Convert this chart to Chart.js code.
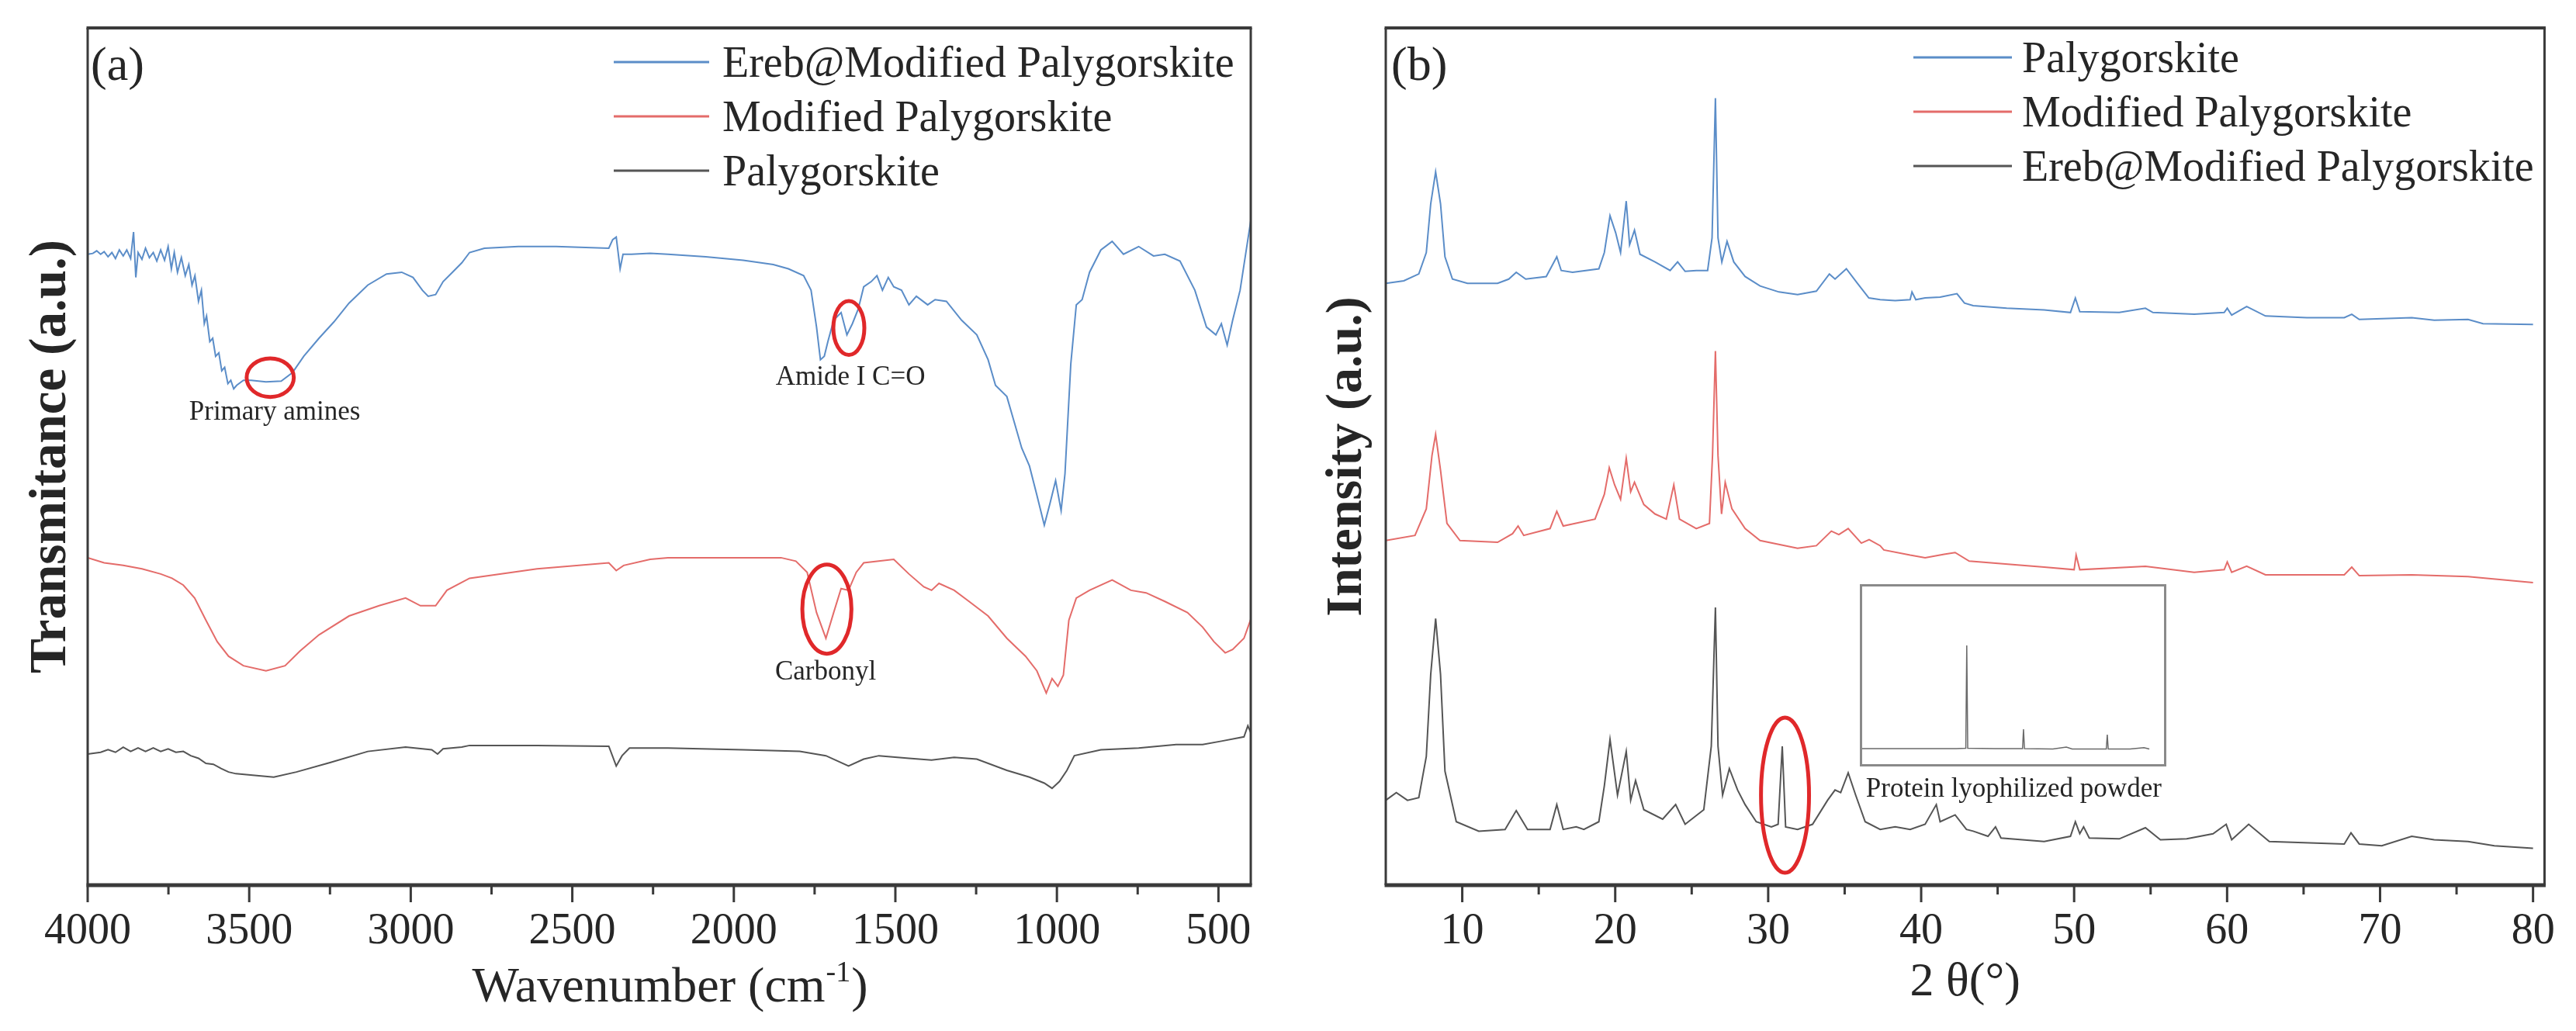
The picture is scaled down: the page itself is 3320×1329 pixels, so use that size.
<!DOCTYPE html>
<html>
<head>
<meta charset="utf-8">
<script src="https://cdn.jsdelivr.net/npm/chart.js@4.4.0/dist/chart.umd.min.js"></script>
<style>
  body { margin: 0; background: #fff; width: 3320px; height: 1329px; position: relative; overflow: hidden; }
  .panel { position: absolute; top: 0; }
  #insetBox { position: absolute; left: 2397px; top: 753px; }
</style>
</head>
<body>
<div class="panel" style="left:0"><canvas id="ftir" width="1660" height="1329"></canvas></div>
<div class="panel" style="left:1660px"><canvas id="xrd" width="1660" height="1329"></canvas></div>
<div id="insetBox"><canvas id="inset" width="395" height="235"></canvas></div>
<script>
// ---- FTIR (a) ----
var ftirTicks = [4000, 3500, 3000, 2500, 2000, 1500, 1000, 500];
var ftirMinor = [3750, 3250, 2750, 2250, 1750, 1250, 750];

var ftirErebWn = [4000, 3984, 3972, 3960, 3949, 3937, 3925, 3914, 3902, 3890, 3879, 3867, 3858, 3851, 3844, 3832, 3821, 3809, 3797, 3786,
    3774, 3762, 3751, 3741, 3732, 3722, 3710, 3698, 3687, 3677, 3668, 3657, 3648, 3639, 3632, 3622, 3613, 3604, 3594, 3585,
    3576, 3566, 3557, 3548, 3539, 3518, 3494, 3448, 3401, 3366, 3331, 3284, 3238, 3191, 3133, 3075, 3028, 2993, 2964, 2946,
    2923, 2900, 2871, 2842, 2818, 2772, 2667, 2550, 2387, 2375, 2364, 2352, 2343, 2317, 2259, 2204, 2087, 1971, 1878, 1831,
    1784, 1761, 1744, 1732, 1720, 1709, 1691, 1668, 1650, 1633, 1615, 1598, 1575, 1557, 1540, 1522, 1505, 1481, 1458, 1435,
    1400, 1377, 1342, 1295, 1248, 1213, 1190, 1155, 1132, 1109, 1085, 1062, 1039, 1021, 1004, 987, 975, 957, 940, 922,
    899, 864, 829, 794, 747, 701, 666, 619, 573, 537, 508, 491, 473, 456, 433, 409, 400];
var ftirErebT = [73.6, 73.7, 74.0, 73.6, 73.9, 73.3, 73.8, 73.1, 74.1, 73.4, 74.1, 73.1, 76.2, 70.9, 73.8, 73.0, 74.3, 73.2, 73.8, 72.8,
    74.1, 72.9, 74.5, 71.9, 73.8, 71.5, 73.2, 71.1, 72.4, 70.0, 71.1, 68.1, 69.4, 65.5, 66.4, 63.4, 63.8, 61.7, 62.1, 60.0,
    60.4, 58.5, 58.9, 57.9, 58.3, 58.9, 58.9, 58.7, 58.8, 59.8, 61.7, 63.8, 65.7, 67.9, 70.0, 71.3, 71.5, 70.9, 69.4, 68.7,
    68.9, 70.4, 71.5, 72.6, 73.8, 74.3, 74.5, 74.5, 74.3, 75.3, 75.6, 71.9, 73.6, 73.6, 73.7, 73.6, 73.3, 72.9, 72.4, 71.9,
    71.1, 69.4, 65.1, 61.3, 61.7, 63.4, 65.9, 66.8, 64.2, 65.5, 67.2, 69.8, 70.4, 71.1, 69.4, 70.9, 69.8, 69.4, 67.7, 68.7,
    67.7, 68.3, 68.1, 65.9, 64.2, 61.3, 58.3, 57.0, 54.0, 51.0, 48.9, 45.5, 42.0, 44.6, 47.2, 43.7, 48.0, 60.8, 67.7, 68.3,
    71.5, 74.1, 75.1, 73.6, 74.5, 73.4, 73.6, 72.8, 69.4, 65.1, 64.2, 65.5, 63.0, 65.9, 69.4, 75.3, 77.5];

var ftirModWn = [4000, 3949, 3890, 3832, 3774, 3739, 3704, 3669, 3634, 3599, 3564, 3518, 3448, 3389, 3343, 3284, 3191, 3098, 3016, 2970,
    2923, 2888, 2818, 2609, 2387, 2364, 2341, 2259, 2204, 1854, 1808, 1773, 1744, 1715, 1691, 1668, 1645, 1621, 1598, 1505,
    1458, 1412, 1388, 1365, 1318, 1272, 1213, 1155, 1097, 1062, 1033, 1015, 997, 980, 963, 940, 899, 829, 771, 724,
    666, 596, 549, 514, 479, 456, 421, 400];
var ftirModT = [38.2, 37.6, 37.3, 36.9, 36.3, 35.8, 35.0, 33.5, 30.9, 28.4, 26.7, 25.6, 25.0, 25.6, 27.3, 29.2, 31.4, 32.6, 33.5, 32.6,
    32.6, 34.4, 35.8, 36.9, 37.6, 36.7, 37.3, 38.0, 38.2, 38.2, 37.8, 36.5, 31.8, 28.8, 31.8, 34.6, 34.4, 36.5, 37.6, 38.0,
    36.3, 34.8, 34.4, 35.2, 34.4, 33.1, 31.4, 28.8, 26.7, 25.0, 22.4, 24.1, 23.2, 24.5, 30.9, 33.5, 34.4, 35.6, 34.4, 34.1,
    33.1, 31.8, 30.1, 28.4, 27.1, 27.5, 28.8, 31.0];

var ftirPalyWn = [4000, 3960, 3937, 3914, 3890, 3867, 3844, 3821, 3797, 3774, 3751, 3727, 3704, 3681, 3657, 3634, 3611, 3587, 3564, 3541,
    3483, 3424, 3354, 3250, 3133, 3016, 2935, 2917, 2900, 2842, 2818, 2609, 2387, 2364, 2346, 2323, 2204, 1971, 1796, 1715,
    1645, 1598, 1551, 1458, 1388, 1318, 1248, 1155, 1085, 1039, 1015, 992, 969, 946, 864, 747, 631, 549, 491, 421,
    409, 400];
var ftirPalyT = [15.3, 15.5, 15.8, 15.5, 16.1, 15.6, 16.0, 15.6, 16.0, 15.6, 15.9, 15.5, 15.6, 15.1, 14.8, 14.2, 14.1, 13.6, 13.2, 13.0,
    12.8, 12.6, 13.2, 14.3, 15.6, 16.1, 15.8, 15.3, 15.9, 16.1, 16.3, 16.3, 16.2, 13.9, 15.1, 16.0, 16.0, 15.8, 15.6, 15.1,
    13.9, 14.7, 15.1, 14.8, 14.6, 14.9, 14.7, 13.4, 12.6, 11.9, 11.3, 12.1, 13.4, 15.1, 15.8, 16.0, 16.4, 16.4, 16.8, 17.3,
    18.6, 17.8];

var ftirRings = [
    { x: 3435, y: 59.2, rx: 73, ry: 2.25 },
    { x: 1644, y: 65.0, rx: 48, ry: 3.15 },
    { x: 1712, y: 32.2, rx: 76, ry: 5.2 }
];
var ftirNotes = [
    { text: 'Primary amines', x: 3421, y: 54.3 },
    { text: 'Amide I C=O', x: 1639, y: 58.4 },
    { text: 'Carbonyl', x: 1716, y: 24.0 }
];

// ---- XRD (b) ----
var xrdTicks = [10, 20, 30, 40, 50, 60, 70, 80];
var xrdMinor = [15, 25, 35, 45, 55, 65, 75];

var xrdPalyTheta = [5.0, 6.18, 7.16, 7.65, 7.94, 8.26, 8.58, 8.87, 9.36, 10.34, 12.31, 13.04, 13.53, 14.15, 15.49, 16.18, 16.47, 17.21, 18.93, 19.29,
    19.66, 20.03, 20.35, 20.72, 20.94, 21.26, 21.62, 22.6, 23.59, 24.08, 24.57, 25.3, 26.04, 26.33, 26.55, 26.72, 26.97, 27.31, 27.75, 28.49,
    29.47, 30.7, 31.92, 33.15, 34.0, 34.37, 35.11, 35.84, 36.58, 37.32, 38.3, 39.28, 39.4, 39.65, 40.26, 41.24, 42.34, 42.83, 43.4, 45.59,
    48.04, 49.76, 50.08, 50.37, 52.95, 54.66, 55.15, 57.85, 59.81, 60.01, 60.3, 61.28, 62.51, 65.21, 67.66, 68.15, 68.64, 72.07, 73.54, 75.75,
    76.73, 80.0];
var xrdPalyI = [70.2, 70.5, 71.3, 73.8, 79.5, 83.2, 79.5, 73.3, 70.7, 70.2, 70.2, 70.7, 71.5, 70.7, 71.0, 73.3, 71.7, 71.5, 71.9, 73.8,
    78.1, 76.1, 73.8, 79.8, 74.7, 76.4, 73.6, 72.7, 71.7, 72.7, 71.6, 71.7, 71.7, 75.5, 91.8, 75.5, 72.7, 75.1, 72.7, 71.0,
    69.9, 69.2, 68.9, 69.3, 71.3, 70.7, 71.9, 70.2, 68.5, 68.3, 68.2, 68.3, 69.2, 68.3, 68.5, 68.6, 69.0, 67.9, 67.6, 67.3,
    67.1, 66.8, 68.5, 66.9, 66.8, 67.3, 66.8, 66.6, 66.8, 67.3, 66.5, 67.5, 66.4, 66.2, 66.2, 66.6, 66.0, 66.2, 65.9, 66.0,
    65.5, 65.4];

var xrdModTheta = [5.0, 6.91, 7.65, 8.02, 8.26, 8.58, 9.0, 9.85, 12.31, 13.29, 13.65, 14.02, 15.74, 16.18, 16.6, 18.68, 19.29, 19.61, 19.96, 20.35,
    20.72, 21.01, 21.26, 21.87, 22.6, 23.34, 23.83, 24.2, 25.3, 26.16, 26.36, 26.55, 26.72, 26.95, 27.19, 27.63, 28.49, 29.47, 31.92, 33.15,
    34.13, 34.62, 35.23, 36.09, 36.6, 37.32, 37.56, 39.28, 40.26, 41.5, 42.22, 43.14, 48.04, 50.0, 50.13, 50.37, 54.66, 57.85, 59.81, 60.01,
    60.3, 61.28, 62.51, 67.66, 68.15, 68.64, 72.07, 75.75, 80.0];
var xrdModI = [40.2, 40.8, 43.9, 50.1, 52.6, 48.4, 42.2, 40.2, 40.0, 41.0, 41.9, 40.8, 41.6, 43.6, 41.9, 42.7, 45.6, 48.7, 46.7, 45.0,
    49.8, 45.9, 47.0, 44.4, 43.3, 42.7, 46.7, 42.7, 41.6, 42.2, 50.1, 62.3, 50.1, 43.3, 47.0, 43.9, 41.6, 40.2, 39.3, 39.6,
    41.3, 40.9, 41.6, 39.9, 40.3, 39.6, 39.1, 38.5, 38.2, 38.6, 38.8, 37.8, 37.1, 36.8, 38.5, 36.8, 37.2, 36.5, 36.8, 37.7,
    36.5, 37.2, 36.2, 36.2, 37.1, 36.1, 36.2, 36.0, 35.3];

var xrdErebTheta = [5.0, 5.69, 6.42, 7.16, 7.65, 7.94, 8.26, 8.58, 8.87, 9.61, 11.08, 12.8, 13.53, 14.27, 15.74, 16.18, 16.6, 17.45, 17.95, 18.93,
    19.29, 19.66, 20.15, 20.72, 21.01, 21.33, 21.87, 23.1, 23.95, 24.57, 25.79, 26.28, 26.55, 26.72, 27.02, 27.46, 28.0, 28.49, 29.22, 30.21,
    30.65, 30.92, 31.14, 31.92, 32.9, 33.88, 34.37, 34.74, 35.23, 35.72, 36.34, 37.32, 38.3, 39.28, 40.26, 40.99, 41.24, 42.22, 42.96, 43.4,
    44.37, 44.86, 45.22, 48.04, 49.76, 50.08, 50.37, 50.62, 50.99, 52.95, 54.66, 55.64, 57.36, 59.08, 59.94, 60.3, 61.41, 62.76, 67.66, 68.1,
    68.64, 70.11, 72.07, 73.54, 75.75, 77.47, 80.0];
var xrdErebI = [9.9, 10.8, 9.9, 10.2, 15.0, 24.6, 31.1, 24.6, 13.3, 7.4, 6.3, 6.5, 8.7, 6.5, 6.5, 9.4, 6.5, 6.8, 6.5, 7.4,
    11.6, 17.0, 10.5, 15.6, 9.9, 12.2, 8.8, 7.7, 9.4, 7.1, 8.8, 16.2, 32.4, 16.2, 10.5, 13.6, 11.1, 9.4, 7.4, 6.8,
    7.1, 16.2, 6.8, 6.5, 7.1, 9.9, 11.1, 10.8, 13.1, 10.5, 7.4, 6.5, 6.8, 6.5, 7.1, 9.4, 7.4, 8.2, 6.5, 6.3,
    5.7, 6.8, 5.5, 5.1, 5.7, 7.4, 6.0, 6.8, 5.5, 5.4, 6.7, 5.3, 5.4, 6.0, 7.1, 5.3, 7.1, 5.1, 4.8, 6.1,
    4.8, 4.6, 5.7, 5.3, 5.1, 4.6, 4.3];

var xrdRings = [{ x: 31.1, y: 10.5, rx: 1.57, ry: 9.05 }];
var xrdNotes = [{ text: 'Protein lyophilized powder', x: 46.05, y: 10.3 }];

// inset: protein lyophilized powder
var insetTheta = [5, 30, 32.45, 32.7, 32.95, 40, 47.15, 47.4, 47.65, 55, 58.5, 60, 68.85, 69.1, 69.35, 75, 78.6, 80];
var insetI = [9.8, 9.8, 10.0, 66.4, 10.0, 9.8, 9.8, 20.4, 9.8, 9.6, 10.6, 9.6, 9.6, 17.4, 9.6, 9.6, 10.3, 9.6];

// ---- look ----
var SERIF = "'Liberation Serif', 'Times New Roman', serif";
var INK = '#262626';
var AXIS = '#3a3a3a';
var BLUE = '#5b8dc8';
var RED = '#e46c6a';
var GREY = '#555555';
var RING = '#e0282a';

function pts(xs, ys) {
    return xs.map((x, i) => ({ x: x, y: ys[i] }))
}

function lineSet(label, xs, ys, color) {
    return {
        label: label,
        data: pts(xs, ys),
        borderColor: color,
        backgroundColor: color,
        borderWidth: 2,
        pointRadius: 0,
        tension: 0,
        fill: false
    }
}

// box around the plot + outward ticks on the bottom axis
const framePlugin = {
    id: 'frame',
    afterDraw(chart, args, o) {
        const { ctx, chartArea: a, scales } = chart;
        ctx.save();
        ctx.strokeStyle = AXIS;
        ctx.lineCap = 'butt';
        ctx.lineWidth = 3;
        ctx.beginPath();
        ctx.moveTo(a.left, a.top); ctx.lineTo(a.left, a.bottom);
        ctx.moveTo(a.right, a.top); ctx.lineTo(a.right, a.bottom);
        ctx.stroke();
        ctx.lineWidth = 4;
        ctx.beginPath(); ctx.moveTo(a.left - 1.5, a.top); ctx.lineTo(a.right + 1.5, a.top); ctx.stroke();
        ctx.lineWidth = 5;
        ctx.beginPath(); ctx.moveTo(a.left - 1.5, a.bottom); ctx.lineTo(a.right + 1.5, a.bottom); ctx.stroke();
        ctx.lineWidth = 3;
        ctx.beginPath();
        o.major.forEach(v => {
            const px = scales.x.getPixelForValue(v);
            ctx.moveTo(px, a.bottom); ctx.lineTo(px, a.bottom + 22);
        });
        o.minor.forEach(v => {
            const px = scales.x.getPixelForValue(v);
            ctx.moveTo(px, a.bottom); ctx.lineTo(px, a.bottom + 12);
        });
        ctx.stroke();
        ctx.restore();
    }
};

// legend drawn inside the plot, line sample + label
const legendLines = {
    id: 'legendLines',
    afterDraw(chart, args, o) {
        const ctx = chart.ctx;
        ctx.save();
        ctx.font = '56px ' + SERIF;
        ctx.textAlign = 'left';
        ctx.textBaseline = 'alphabetic';
        chart.data.datasets.forEach((ds, i) => {
            const y = o.y0 + i * o.dy;
            ctx.strokeStyle = ds.borderColor;
            ctx.lineWidth = 3;
            ctx.beginPath(); ctx.moveTo(o.lineX, y); ctx.lineTo(o.lineX + o.lineW, y); ctx.stroke();
            ctx.fillStyle = INK;
            ctx.fillText(ds.label, o.textX, y + 19);
        });
        ctx.restore();
    }
};

// red rings, small notes, panel tag and custom axis title
const notesPlugin = {
    id: 'notes',
    afterDatasetsDraw(chart, args, o) {
        const { ctx, scales: { x, y } } = chart;
        ctx.save();
        ctx.strokeStyle = RING;
        ctx.lineWidth = 5;
        (o.rings || []).forEach(r => {
            const cx = x.getPixelForValue(r.x), cy = y.getPixelForValue(r.y);
            const rx = Math.abs(x.getPixelForValue(r.x + r.rx) - cx);
            const ry = Math.abs(y.getPixelForValue(r.y + r.ry) - cy);
            ctx.beginPath(); ctx.ellipse(cx, cy, rx, ry, 0, 0, Math.PI * 2); ctx.stroke();
        });
        ctx.fillStyle = INK;
        ctx.font = '35px ' + SERIF;
        ctx.textAlign = 'center';
        ctx.textBaseline = 'alphabetic';
        (o.notes || []).forEach(n => {
            ctx.fillText(n.text, x.getPixelForValue(n.x), y.getPixelForValue(n.y));
        });
        if (o.tag) {
            ctx.font = '62px ' + SERIF;
            ctx.textAlign = 'left';
            ctx.fillText(o.tag.text, o.tag.x, o.tag.y);
        }
        if (o.unitTitle) {
            const t = o.unitTitle;
            const a = chart.chartArea;
            ctx.font = '64px ' + SERIF;
            const w1 = ctx.measureText(t.main).width;
            const w3 = ctx.measureText(t.close).width;
            ctx.font = '38px ' + SERIF;
            const w2 = ctx.measureText(t.sup).width;
            let sx = (a.left + a.right) / 2 - (w1 + w2 + w3) / 2;
            ctx.textAlign = 'left';
            ctx.font = '64px ' + SERIF;
            ctx.fillText(t.main, sx, t.y);
            ctx.font = '38px ' + SERIF;
            ctx.fillText(t.sup, sx + w1 + 1, t.y - 26);
            ctx.font = '64px ' + SERIF;
            ctx.fillText(t.close, sx + w1 + w2 + 2, t.y);
        }
        ctx.restore();
    }
};

function tickFont() {
    return { family: SERIF, size: 56 }
}

const ftirChart = new Chart(document.getElementById('ftir').getContext('2d'), {
    type: 'line',
    data: {
        datasets: [
            lineSet('Ereb@Modified Palygorskite', ftirErebWn, ftirErebT, BLUE),
            lineSet('Modified Palygorskite', ftirModWn, ftirModT, RED),
            lineSet('Palygorskite', ftirPalyWn, ftirPalyT, GREY)
        ]
    },
    options: {
        responsive: false,
        animation: false,
        layout: { padding: { top: 36, right: 48, left: 0, bottom: 0 } },
        plugins: {
            legend: { display: false },
            tooltip: { enabled: false },
            frame: { major: ftirTicks, minor: ftirMinor },
            legendLines: { lineX: 791, lineW: 123, textX: 931, y0: 80, dy: 70 },
            notes: {
                rings: ftirRings,
                notes: ftirNotes,
                tag: { text: '(a)', x: 117, y: 103 },
                unitTitle: { main: 'Wavenumber (cm', sup: '-1', close: ')', y: 1291 }
            }
        },
        scales: {
            x: {
                type: 'linear',
                reverse: true,
                min: 400,
                max: 4000,
                afterBuildTicks: s => { s.ticks = ftirTicks.map(v => ({ value: v })) },
                afterFit: s => { s.height = 188 },
                grid: { display: false, drawTicks: false },
                border: { display: false },
                ticks: { font: tickFont(), color: INK, padding: 27, maxRotation: 0, autoSkip: false, callback: v => String(v) }
            },
            y: {
                min: 0,
                max: 100,
                afterFit: s => { s.width = 113 },
                grid: { display: false, drawTicks: false },
                border: { display: false },
                ticks: { display: false },
                title: {
                    display: true, text: 'Transmitance (a.u.)', color: INK,
                    font: { family: SERIF, size: 67, weight: 'bold' },
                    padding: { top: 26, bottom: 0 }
                }
            }
        }
    },
    plugins: [framePlugin, legendLines, notesPlugin]
});

const xrdChart = new Chart(document.getElementById('xrd').getContext('2d'), {
    type: 'line',
    data: {
        datasets: [
            lineSet('Palygorskite', xrdPalyTheta, xrdPalyI, BLUE),
            lineSet('Modified Palygorskite', xrdModTheta, xrdModI, RED),
            lineSet('Ereb@Modified Palygorskite', xrdErebTheta, xrdErebI, GREY)
        ]
    },
    options: {
        responsive: false,
        animation: false,
        layout: { padding: { top: 36, right: 37, left: 0, bottom: 0 } },
        plugins: {
            legend: { display: false },
            tooltip: { enabled: false },
            frame: { major: xrdTicks, minor: xrdMinor },
            legendLines: { lineX: 806, lineW: 127, textX: 946, y0: 74, dy: 70 },
            notes: {
                rings: xrdRings,
                notes: xrdNotes,
                tag: { text: '(b)', x: 133, y: 103 }
            }
        },
        scales: {
            x: {
                type: 'linear',
                min: 5,
                max: 80.75,
                afterBuildTicks: s => { s.ticks = xrdTicks.map(v => ({ value: v })) },
                afterFit: s => { s.height = 188 },
                grid: { display: false, drawTicks: false },
                border: { display: false },
                ticks: { font: tickFont(), color: INK, padding: 27, maxRotation: 0, autoSkip: false, callback: v => String(v) },
                title: {
                    display: true, text: '2 θ(°)', color: INK,
                    font: { family: SERIF, size: 62 },
                    padding: { top: 0, bottom: 25 }
                }
            },
            y: {
                min: 0,
                max: 100,
                afterFit: s => { s.width = 126 },
                grid: { display: false, drawTicks: false },
                border: { display: false },
                ticks: { display: false },
                title: {
                    display: true, text: 'Intensity (a.u.)', color: INK,
                    font: { family: SERIF, size: 66, weight: 'bold' },
                    padding: { top: 37, bottom: 0 }
                }
            }
        }
    },
    plugins: [framePlugin, legendLines, notesPlugin]
});

const insetBorder = {
    id: 'insetBorder',
    afterDraw(chart) {
        const { ctx, width, height } = chart;
        ctx.save();
        ctx.strokeStyle = '#8a8a8a';
        ctx.lineWidth = 3;
        ctx.strokeRect(1.5, 1.5, width - 3, height - 3);
        ctx.restore();
    }
};

const insetChart = new Chart(document.getElementById('inset').getContext('2d'), {
    type: 'line',
    data: {
        datasets: [{
            label: 'Protein lyophilized powder',
            data: pts(insetTheta, insetI),
            borderColor: '#6a6a6a',
            borderWidth: 1.5,
            pointRadius: 0,
            tension: 0,
            fill: false
        }]
    },
    options: {
        responsive: false,
        animation: false,
        layout: { padding: 0 },
        plugins: { legend: { display: false }, tooltip: { enabled: false } },
        scales: {
            x: { type: 'linear', display: false, min: 5, max: 84.4 },
            y: { display: false, min: 0, max: 100 }
        }
    },
    plugins: [insetBorder]
});
</script>
</body>
</html>
